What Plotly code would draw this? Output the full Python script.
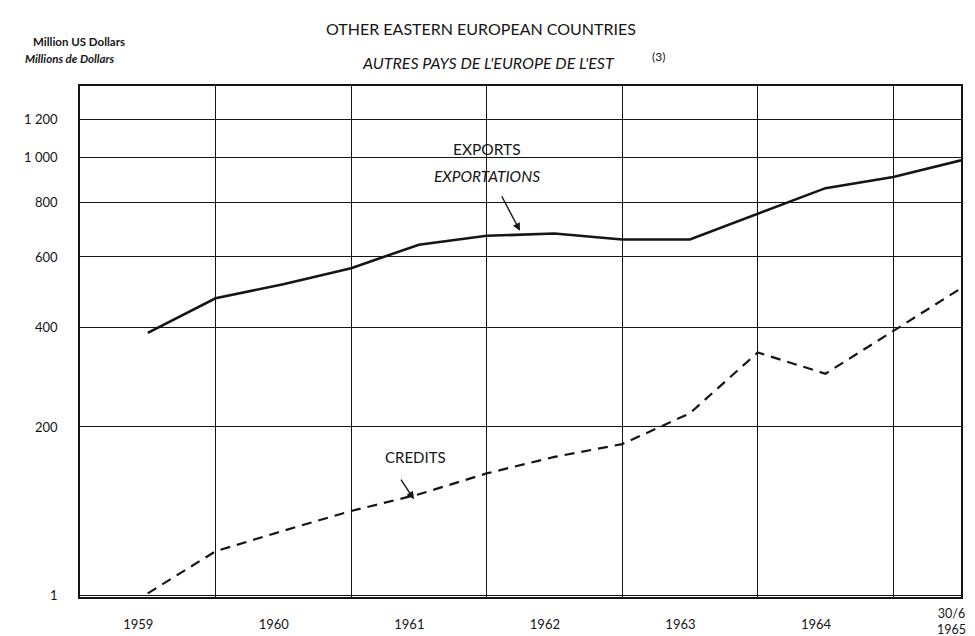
import numpy as np
import plotly.graph_objects as go

# ---- data (values in million US dollars) ----
PERIODS = [1959.5, 1960.0, 1960.5, 1961.0, 1961.5, 1962.0, 1962.5,
           1963.0, 1963.5, 1964.0, 1964.5, 1965.0, 1965.5]
EXPORTS = [387, 476, 516, 564, 641, 672, 680, 659, 659, 754, 859, 908, 986]
CREDITS = [3, 41, 62, 84, 104, 131, 154, 173, 223, 342, 297, 392, 504]

Y_TICK_VALUES = [1, 200, 400, 600, 800, 1000, 1200]
Y_TICK_LABELS = ["1", "200", "400", "600", "800", "1 000", "1 200"]
YEAR_BOUNDARIES = [1960, 1961, 1962, 1963, 1964, 1965]
X_LABEL_POS = [1959.43, 1960.43, 1961.43, 1962.43, 1963.43, 1964.43, 1965.43]
X_LABELS = ["1959", "1960", "1961", "1962", "1963", "1964", "30/6<br>1965"]

# chart scale: logarithmic in (value + offset), as in the original paper chart
Y_OFFSET = 200
Y_MIN, Y_MAX = 0, 1406

INK = "#151515"
FONT = "Lato"


def sy(v):
    return np.asarray(v, dtype=float) + Y_OFFSET


fig = go.Figure()
fig.add_trace(go.Scatter(x=PERIODS, y=sy(EXPORTS), mode="lines",
                         line=dict(color=INK, width=2.6), name="Exports",
                         showlegend=False))
fig.add_trace(go.Scatter(x=PERIODS, y=sy(CREDITS), mode="lines",
                         line=dict(color=INK, width=2.2, dash="10px,7px"),
                         name="Credits", showlegend=False))

fig.update_layout(
    width=975, height=636,
    margin=dict(l=72, r=22, t=78, b=42),
    paper_bgcolor="white", plot_bgcolor="white",
    font=dict(family=FONT, color=INK),
)

fig.update_xaxes(
    range=[1959.0, 1965.5],
    tickmode="array", tickvals=X_LABEL_POS[:-1], ticktext=X_LABELS[:-1],
    showgrid=False, ticks="outside", ticklen=14, tickcolor="rgba(0,0,0,0)",
    tickfont=dict(size=13, family=FONT, color=INK),
    showline=True, linecolor=INK, linewidth=2.4, mirror=True,
    zeroline=False,
    minor=dict(tickmode="array", tickvals=YEAR_BOUNDARIES, showgrid=True,
               gridcolor=INK, gridwidth=1.4, ticks=""),
)

fig.update_yaxes(
    type="log",
    range=[np.log10(Y_MIN + Y_OFFSET), np.log10(Y_MAX + Y_OFFSET)],
    tickmode="array", tickvals=list(sy(Y_TICK_VALUES)), ticktext=Y_TICK_LABELS,
    showgrid=True, gridcolor=INK, gridwidth=1.4,
    ticks="outside", ticklen=18, tickcolor="rgba(0,0,0,0)",
    tickfont=dict(size=13, family=FONT, color=INK),
    showline=True, linecolor=INK, linewidth=1.6, mirror=True,
    zeroline=False,
)

# gap in the grid behind the EXPORTS label
fig.add_shape(type="rect", xref="paper", yref="paper",
              x0=(403 - 72) / 881, x1=(553 - 72) / 881,
              y0=(594 - 187) / 516, y1=(594 - 122) / 516,
              fillcolor="white", line=dict(width=0), layer="between")


def px(xp):
    return (xp - 72) / 881


def py(yp):
    return (594 - yp) / 516


ann = [
    dict(text="OTHER EASTERN EUROPEAN COUNTRIES", x=px(473), y=py(20), size=16, italic=False),
    dict(text="AUTRES PAYS DE L'EUROPE DE L'EST", x=px(480), y=py(54), size=16, italic=True),
    dict(text="(3)", x=px(650), y=py(48), size=12, italic=False),
    dict(text="EXPORTS", x=px(479), y=py(142), size=15.5, italic=False),
    dict(text="EXPORTATIONS", x=px(479), y=py(169), size=15.5, italic=True),
    dict(text="CREDITS", x=px(407), y=py(453), size=15, italic=False),
    dict(text="30/6<br>1965", x=px(943), y=py(619), size=12.5, italic=False),
]
for a in ann:
    t = a["text"]
    if a["italic"]:
        t = "<i>" + t + "</i>"
    fig.add_annotation(text=t, x=a["x"], y=a["y"], xref="paper", yref="paper",
                       showarrow=False, xanchor="center", yanchor="middle",
                       font=dict(size=a["size"], family=FONT, color=INK))

fig.add_annotation(text="<b>Million US Dollars</b>", x=px(23), y=py(33),
                   xref="paper", yref="paper", showarrow=False,
                   xanchor="left", yanchor="middle",
                   font=dict(size=11.5, family=FONT, color=INK))
fig.add_annotation(text="<b><i>Millions de Dollars</i></b>", x=px(15), y=py(50),
                   xref="paper", yref="paper", showarrow=False,
                   xanchor="left", yanchor="middle",
                   font=dict(size=11.5, family=FONT, color=INK))

# pointer arrows
fig.add_annotation(x=1962.246, y=np.log10(690 + Y_OFFSET), ax=-19, ay=-36,
                   showarrow=True, arrowhead=2, arrowsize=1.1, arrowwidth=1.4,
                   arrowcolor=INK, text="")
fig.add_annotation(x=1961.464, y=np.log10(98 + Y_OFFSET), ax=-14, ay=-21,
                   showarrow=True, arrowhead=2, arrowsize=1.1, arrowwidth=1.4,
                   arrowcolor=INK, text="")

fig.write_html("out.html")
